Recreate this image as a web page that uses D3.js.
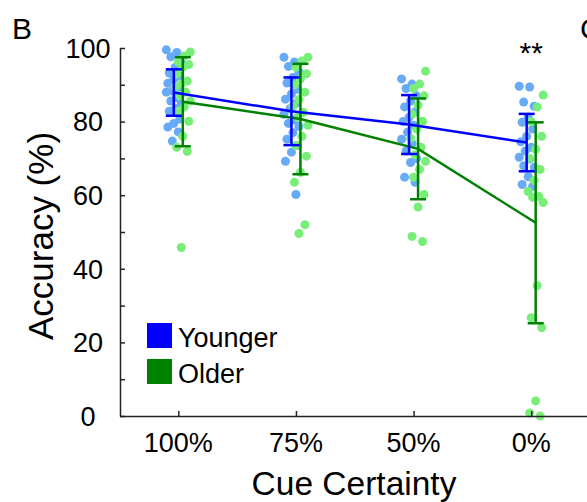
<!DOCTYPE html>
<html>
<head>
<meta charset="utf-8">
<script src="https://cdn.jsdelivr.net/npm/d3@7"></script>
<style>
  body { margin: 0; background: #fff; }
  svg { display: block; font-family: "Liberation Sans", Arial, sans-serif; }
</style>
</head>
<body>
<script>
const conditions = ["100%", "75%", "50%", "0%"];
const groups = ["Younger", "Older"];

// group means and SD per condition (%)
const youngMean = [87.9, 82.8, 79.2, 74.3];
const youngSd = [6.3, 9.2, 8.0, 7.8];
const oldMean = [85.4, 80.7, 72.6, 52.5];
const oldSd = [12.1, 15.0, 13.7, 27.3];

// individual subjects (%), one array per condition
const youngDots = [
  [99.5, 98.8, 97.6, 96.0, 94.8, 93.2, 92.4, 91.6, 90.4, 89.0, 88.3, 88.0, 86.5, 85.6, 84.7, 83.5, 82.8, 80.7, 79.5, 78.5, 77.2, 74.7],
  [97.5, 96.2, 95.0, 93.5, 92.0, 90.5, 88.8, 87.5, 86.1, 85.0, 83.5, 82.0, 80.5, 79.5, 78.7, 77.0, 75.2, 73.5, 71.7, 69.2, 60.2],
  [91.6, 90.2, 89.0, 87.0, 85.6, 84.0, 82.6, 81.2, 80.0, 79.0, 77.1, 75.2, 74.0, 72.0, 70.0, 68.9, 64.9, 63.5],
  [89.6, 89.4, 85.3, 84.2, 81.2, 79.8, 78.0, 76.0, 74.5, 73.0, 72.0, 70.3, 69.8, 68.0, 67.5, 65.0, 62.9, 62.4]
];
const oldDots = [
  [98.9, 97.8, 96.2, 95.5, 94.8, 92.9, 91.0, 90.2, 89.4, 88.0, 87.0, 85.6, 84.0, 82.8, 80.1, 76.0, 73.0, 71.9, 45.8],
  [97.5, 96.5, 94.8, 93.0, 91.6, 90.0, 88.0, 86.0, 84.2, 82.5, 81.2, 79.0, 76.0, 73.5, 70.6, 66.2, 63.5, 52.0, 49.6],
  [93.7, 90.2, 89.0, 87.0, 84.5, 82.0, 80.1, 78.0, 75.5, 73.0, 71.0, 69.2, 67.0, 64.9, 60.2, 56.8, 48.8, 47.4],
  [87.2, 84.0, 80.0, 76.0, 72.5, 70.0, 67.0, 64.0, 61.0, 59.7, 59.4, 58.0, 35.4, 26.7, 24.0, 4.1, 0.8, 0.0]
];
const yTicks = [0, 10, 20, 30, 40, 50, 60, 70, 80, 90, 100];

const width = 587, height = 502;
const lineColor = ["#0000ff", "#008000"];
const dotColor = ["#66aaf8", "#78ee78"];
const offset = [-4.5, 4.5];

const svg = d3.select("body").append("svg")
    .attr("width", width)
    .attr("height", height);

const x = d3.scaleLinear().domain([0.5, 4.5]).range([119.5, 590]);
const y = d3.scaleLinear().domain([0, 100]).range([416, 48]);
const px = (ci, g) => x(ci + 1) + offset[g];

// small fixed jitter pattern so dots spread around their bar
const jitter = i => ((i * 7) % 11 - 5) * 1.5;

[youngDots, oldDots].forEach((dots, g) => {
  svg.append("g")
      .attr("fill", dotColor[g])
    .selectAll("g")
    .data(dots)
    .join("g")
    .selectAll("circle")
    .data((d, ci) => d.map((v, i) => ({ci, v, i})))
    .join("circle")
      .attr("cx", d => px(d.ci, g) + jitter(d.i + g * 3))
      .attr("cy", d => y(d.v))
      .attr("r", 4.5);
});

[[oldMean, oldSd, 1], [youngMean, youngSd, 0]].forEach(([mean, sd, g]) => {
  const grp = svg.append("g")
      .attr("stroke", lineColor[g])
      .attr("stroke-width", 2.5)
      .attr("fill", "none");

  grp.append("path")
      .attr("d", d3.line().x((d, i) => px(i, g)).y(d => y(d))(mean));

  const bar = grp.selectAll("g")
    .data(mean.map((m, i) => ({i, m, s: sd[i]})))
    .join("g");
  bar.append("line")
      .attr("x1", d => px(d.i, g)).attr("x2", d => px(d.i, g))
      .attr("y1", d => y(d.m + d.s)).attr("y2", d => y(d.m - d.s));
  bar.selectAll("line.cap")
    .data(d => [d.m + d.s, d.m - d.s].map(v => ({i: d.i, v})))
    .join("line")
      .attr("class", "cap")
      .attr("x1", d => px(d.i, g) - 8).attr("x2", d => px(d.i, g) + 8)
      .attr("y1", d => y(d.v)).attr("y2", d => y(d.v));
});

// axes (ticks point inward, labels every 20)
svg.append("g")
    .attr("transform", "translate(120,0)")
    .call(d3.axisRight(y).tickValues(yTicks).tickSize(5).tickFormat(""))
    .call(g => g.select(".domain").attr("d", `M0.5,${y(100)}V${y(0) + 0.5}`))
    .call(g => g.selectAll("line, path").attr("stroke", "#222").attr("stroke-width", 1.5));

svg.append("g")
    .selectAll("text")
    .data(yTicks.filter(d => d % 20 === 0))
    .join("text")
      .attr("x", 88)
      .attr("y", d => y(d))
      .attr("dy", "0.36em")
      .attr("text-anchor", "middle")
      .attr("font-size", 27)
      .text(d => d);

svg.append("g")
    .attr("transform", `translate(0,${y(0)})`)
    .call(d3.axisTop(x).tickValues([1, 2, 3, 4]).tickSize(5).tickFormat(""))
    .call(g => g.select(".domain").attr("d", `M120,0.5H${width}`))
    .call(g => g.selectAll("line, path").attr("stroke", "#222").attr("stroke-width", 1.5));

svg.append("g")
    .selectAll("text")
    .data(conditions)
    .join("text")
      .attr("x", (d, i) => x(i + 1))
      .attr("y", 452)
      .attr("text-anchor", "middle")
      .attr("font-size", 27)
      .text(d => d);

svg.append("text")
    .attr("x", 354)
    .attr("y", 495)
    .attr("text-anchor", "middle")
    .attr("font-size", 33.5)
    .text("Cue Certainty");

svg.append("text")
    .attr("transform", "translate(53,236) rotate(-90)")
    .attr("text-anchor", "middle")
    .attr("font-size", 35)
    .text("Accuracy (%)");

svg.append("text")
    .attr("x", x(4))
    .attr("y", 63)
    .attr("text-anchor", "middle")
    .attr("font-size", 30)
    .text("**");

// panel letters (the next panel's "C" is cut by the edge, as in the figure)
svg.append("text").attr("x", 12).attr("y", 39).attr("font-size", 30).text("B");
svg.append("text").attr("x", 580).attr("y", 39).attr("font-size", 30).text("C");

const legend = svg.append("g")
  .selectAll("g")
  .data(groups)
  .join("g")
    .attr("transform", (d, i) => `translate(147,${323 + i * 36})`);
legend.append("rect")
    .attr("width", 25)
    .attr("height", 25)
    .attr("fill", (d, i) => lineColor[i]);
legend.append("text")
    .attr("x", 31)
    .attr("y", 24)
    .attr("font-size", 27)
    .text(d => d);
</script>
</body>
</html>
